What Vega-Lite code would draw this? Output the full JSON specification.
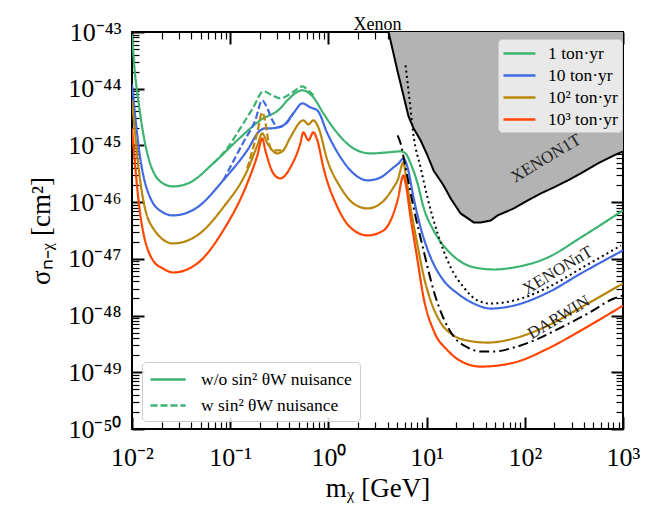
{
  "$schema": "https://vega.github.io/schema/vega-lite/v6.json",
  "width": 491,
  "height": 397,
  "autosize": {"type": "none"},
  "padding": {"left": 132, "top": 32, "right": 45, "bottom": 81},
  "background": "white",
  "title": {"text": "Xenon", "font": "Liberation Serif", "fontSize": 18, "fontWeight": "normal", "color": "black", "offset": -15},
  "config": {
    "view": {"stroke": "black", "strokeWidth": 2},
    "font": "Liberation Serif",
    "axis": {"grid": false, "domain": false, "labelFont": "Liberation Serif", "titleFont": "Liberation Serif", "labelColor": "black", "titleColor": "black", "tickColor": "black", "titleFontWeight": "normal", "labelFlush": false, "labelOverlap": false, "labelBound": false},
    "legend": {"labelFont": "Liberation Serif", "labelColor": "black", "labelFontSize": 17.5}
  },
  "datasets": {
    "curves": [
      {"m": 0.01, "s": 9.11e-44, "e": "1 ton·yr", "d": "w/o sin² θW nuisance"},
      {"m": 0.0102, "s": 5.37e-44, "e": "1 ton·yr", "d": "w/o sin² θW nuisance"},
      {"m": 0.0121, "s": 3.67e-45, "e": "1 ton·yr", "d": "w/o sin² θW nuisance"},
      {"m": 0.0153, "s": 4.82e-46, "e": "1 ton·yr", "d": "w/o sin² θW nuisance"},
      {"m": 0.0207, "s": 2.14e-46, "e": "1 ton·yr", "d": "w/o sin² θW nuisance"},
      {"m": 0.0262, "s": 1.89e-46, "e": "1 ton·yr", "d": "w/o sin² θW nuisance"},
      {"m": 0.0391, "s": 2.23e-46, "e": "1 ton·yr", "d": "w/o sin² θW nuisance"},
      {"m": 0.0671, "s": 4.82e-46, "e": "1 ton·yr", "d": "w/o sin² θW nuisance"},
      {"m": 0.118, "s": 1.23e-45, "e": "1 ton·yr", "d": "w/o sin² θW nuisance"},
      {"m": 0.202, "s": 2.77e-45, "e": "1 ton·yr", "d": "w/o sin² θW nuisance"},
      {"m": 0.324, "s": 4.51e-45, "e": "1 ton·yr", "d": "w/o sin² θW nuisance"},
      {"m": 0.382, "s": 6.24e-45, "e": "1 ton·yr", "d": "w/o sin² θW nuisance"},
      {"m": 0.543, "s": 9.35e-45, "e": "1 ton·yr", "d": "w/o sin² θW nuisance"},
      {"m": 0.703, "s": 7.05e-45, "e": "1 ton·yr", "d": "w/o sin² θW nuisance"},
      {"m": 0.889, "s": 3.67e-45, "e": "1 ton·yr", "d": "w/o sin² θW nuisance"},
      {"m": 1.24, "s": 1.63e-45, "e": "1 ton·yr", "d": "w/o sin² θW nuisance"},
      {"m": 1.8, "s": 8.87e-46, "e": "1 ton·yr", "d": "w/o sin² θW nuisance"},
      {"m": 2.68, "s": 7.23e-46, "e": "1 ton·yr", "d": "w/o sin² θW nuisance"},
      {"m": 4.0, "s": 7.54e-46, "e": "1 ton·yr", "d": "w/o sin² θW nuisance"},
      {"m": 5.43, "s": 7.85e-46, "e": "1 ton·yr", "d": "w/o sin² θW nuisance"},
      {"m": 6.11, "s": 7.23e-46, "e": "1 ton·yr", "d": "w/o sin² θW nuisance"},
      {"m": 6.87, "s": 4.82e-46, "e": "1 ton·yr", "d": "w/o sin² θW nuisance"},
      {"m": 8.09, "s": 2.14e-46, "e": "1 ton·yr", "d": "w/o sin² θW nuisance"},
      {"m": 9.31, "s": 8.07e-47, "e": "1 ton·yr", "d": "w/o sin² θW nuisance"},
      {"m": 11.78, "s": 3.17e-47, "e": "1 ton·yr", "d": "w/o sin² θW nuisance"},
      {"m": 16.37, "s": 1.41e-47, "e": "1 ton·yr", "d": "w/o sin² θW nuisance"},
      {"m": 23.9, "s": 8.28e-48, "e": "1 ton·yr", "d": "w/o sin² θW nuisance"},
      {"m": 35.6, "s": 6.76e-48, "e": "1 ton·yr", "d": "w/o sin² θW nuisance"},
      {"m": 48.3, "s": 6.49e-48, "e": "1 ton·yr", "d": "w/o sin² θW nuisance"},
      {"m": 77.3, "s": 7.05e-48, "e": "1 ton·yr", "d": "w/o sin² θW nuisance"},
      {"m": 172, "s": 1.06e-47, "e": "1 ton·yr", "d": "w/o sin² θW nuisance"},
      {"m": 372, "s": 2.38e-47, "e": "1 ton·yr", "d": "w/o sin² θW nuisance"},
      {"m": 1000, "s": 7.14e-47, "e": "1 ton·yr", "d": "w/o sin² θW nuisance"},

      {"m": 0.01, "s": 1.19e-44, "e": "10 ton·yr", "d": "w/o sin² θW nuisance"},
      {"m": 0.0121, "s": 6.15e-46, "e": "10 ton·yr", "d": "w/o sin² θW nuisance"},
      {"m": 0.0153, "s": 1.21e-46, "e": "10 ton·yr", "d": "w/o sin² θW nuisance"},
      {"m": 0.0207, "s": 6.58e-47, "e": "10 ton·yr", "d": "w/o sin² θW nuisance"},
      {"m": 0.0262, "s": 5.83e-47, "e": "10 ton·yr", "d": "w/o sin² θW nuisance"},
      {"m": 0.0461, "s": 8.07e-47, "e": "10 ton·yr", "d": "w/o sin² θW nuisance"},
      {"m": 0.0849, "s": 2.42e-46, "e": "10 ton·yr", "d": "w/o sin² θW nuisance"},
      {"m": 0.149, "s": 8.17e-46, "e": "10 ton·yr", "d": "w/o sin² θW nuisance"},
      {"m": 0.202, "s": 1.84e-45, "e": "10 ton·yr", "d": "w/o sin² θW nuisance"},
      {"m": 0.228, "s": 2.0e-45, "e": "10 ton·yr", "d": "w/o sin² θW nuisance"},
      {"m": 0.256, "s": 2.0e-45, "e": "10 ton·yr", "d": "w/o sin² θW nuisance"},
      {"m": 0.347, "s": 2.26e-45, "e": "10 ton·yr", "d": "w/o sin² θW nuisance"},
      {"m": 0.439, "s": 3.67e-45, "e": "10 ton·yr", "d": "w/o sin² θW nuisance"},
      {"m": 0.543, "s": 5.52e-45, "e": "10 ton·yr", "d": "w/o sin² θW nuisance"},
      {"m": 0.655, "s": 4.69e-45, "e": "10 ton·yr", "d": "w/o sin² θW nuisance"},
      {"m": 0.772, "s": 4.15e-45, "e": "10 ton·yr", "d": "w/o sin² θW nuisance"},
      {"m": 0.977, "s": 1.63e-45, "e": "10 ton·yr", "d": "w/o sin² θW nuisance"},
      {"m": 1.33, "s": 6.15e-46, "e": "10 ton·yr", "d": "w/o sin² θW nuisance"},
      {"m": 1.8, "s": 3.21e-46, "e": "10 ton·yr", "d": "w/o sin² θW nuisance"},
      {"m": 2.5, "s": 2.42e-46, "e": "10 ton·yr", "d": "w/o sin² θW nuisance"},
      {"m": 3.4, "s": 2.73e-46, "e": "10 ton·yr", "d": "w/o sin² θW nuisance"},
      {"m": 4.6, "s": 4.09e-46, "e": "10 ton·yr", "d": "w/o sin² θW nuisance"},
      {"m": 5.18, "s": 4.82e-46, "e": "10 ton·yr", "d": "w/o sin² θW nuisance"},
      {"m": 5.82, "s": 5.9e-46, "e": "10 ton·yr", "d": "w/o sin² θW nuisance"},
      {"m": 6.4, "s": 4.09e-46, "e": "10 ton·yr", "d": "w/o sin² θW nuisance"},
      {"m": 7.36, "s": 1.21e-46, "e": "10 ton·yr", "d": "w/o sin² θW nuisance"},
      {"m": 8.68, "s": 3.58e-47, "e": "10 ton·yr", "d": "w/o sin² θW nuisance"},
      {"m": 11.0, "s": 1.06e-47, "e": "10 ton·yr", "d": "w/o sin² θW nuisance"},
      {"m": 14.9, "s": 4.15e-48, "e": "10 ton·yr", "d": "w/o sin² θW nuisance"},
      {"m": 20.7, "s": 2.45e-48, "e": "10 ton·yr", "d": "w/o sin² θW nuisance"},
      {"m": 30.2, "s": 1.63e-48, "e": "10 ton·yr", "d": "w/o sin² θW nuisance"},
      {"m": 44.9, "s": 1.33e-48, "e": "10 ton·yr", "d": "w/o sin² θW nuisance"},
      {"m": 77.3, "s": 1.5e-48, "e": "10 ton·yr", "d": "w/o sin² θW nuisance"},
      {"m": 172, "s": 2.55e-48, "e": "10 ton·yr", "d": "w/o sin² θW nuisance"},
      {"m": 372, "s": 5.52e-48, "e": "10 ton·yr", "d": "w/o sin² θW nuisance"},
      {"m": 1000, "s": 1.41e-47, "e": "10 ton·yr", "d": "w/o sin² θW nuisance"},

      {"m": 0.01, "s": 6.24e-45, "e": "10² ton·yr", "d": "w/o sin² θW nuisance"},
      {"m": 0.0121, "s": 2.42e-46, "e": "10² ton·yr", "d": "w/o sin² θW nuisance"},
      {"m": 0.0153, "s": 4.21e-47, "e": "10² ton·yr", "d": "w/o sin² θW nuisance"},
      {"m": 0.0262, "s": 1.87e-47, "e": "10² ton·yr", "d": "w/o sin² θW nuisance"},
      {"m": 0.0461, "s": 2.59e-47, "e": "10² ton·yr", "d": "w/o sin² θW nuisance"},
      {"m": 0.0849, "s": 8.07e-47, "e": "10² ton·yr", "d": "w/o sin² θW nuisance"},
      {"m": 0.149, "s": 3.62e-46, "e": "10² ton·yr", "d": "w/o sin² θW nuisance"},
      {"m": 0.189, "s": 1.0e-45, "e": "10² ton·yr", "d": "w/o sin² θW nuisance"},
      {"m": 0.212, "s": 1.63e-45, "e": "10² ton·yr", "d": "w/o sin² θW nuisance"},
      {"m": 0.239, "s": 1.09e-45, "e": "10² ton·yr", "d": "w/o sin² θW nuisance"},
      {"m": 0.302, "s": 7.23e-46, "e": "10² ton·yr", "d": "w/o sin² θW nuisance"},
      {"m": 0.347, "s": 8.17e-46, "e": "10² ton·yr", "d": "w/o sin² θW nuisance"},
      {"m": 0.41, "s": 1.39e-45, "e": "10² ton·yr", "d": "w/o sin² θW nuisance"},
      {"m": 0.556, "s": 2.77e-45, "e": "10² ton·yr", "d": "w/o sin² θW nuisance"},
      {"m": 0.625, "s": 2.35e-45, "e": "10² ton·yr", "d": "w/o sin² θW nuisance"},
      {"m": 0.703, "s": 2.77e-45, "e": "10² ton·yr", "d": "w/o sin² θW nuisance"},
      {"m": 0.79, "s": 2.08e-45, "e": "10² ton·yr", "d": "w/o sin² θW nuisance"},
      {"m": 0.977, "s": 5.45e-46, "e": "10² ton·yr", "d": "w/o sin² θW nuisance"},
      {"m": 1.33, "s": 1.82e-46, "e": "10² ton·yr", "d": "w/o sin² θW nuisance"},
      {"m": 1.8, "s": 9.48e-47, "e": "10² ton·yr", "d": "w/o sin² θW nuisance"},
      {"m": 2.5, "s": 7.74e-47, "e": "10² ton·yr", "d": "w/o sin² θW nuisance"},
      {"m": 3.4, "s": 9.48e-47, "e": "10² ton·yr", "d": "w/o sin² θW nuisance"},
      {"m": 4.6, "s": 1.82e-46, "e": "10² ton·yr", "d": "w/o sin² θW nuisance"},
      {"m": 5.06, "s": 2.42e-46, "e": "10² ton·yr", "d": "w/o sin² θW nuisance"},
      {"m": 5.82, "s": 5.02e-46, "e": "10² ton·yr", "d": "w/o sin² θW nuisance"},
      {"m": 6.11, "s": 3.21e-46, "e": "10² ton·yr", "d": "w/o sin² θW nuisance"},
      {"m": 6.87, "s": 8.07e-47, "e": "10² ton·yr", "d": "w/o sin² θW nuisance"},
      {"m": 8.09, "s": 1.72e-47, "e": "10² ton·yr", "d": "w/o sin² θW nuisance"},
      {"m": 9.31, "s": 5.09e-48, "e": "10² ton·yr", "d": "w/o sin² θW nuisance"},
      {"m": 10.99, "s": 1.84e-48, "e": "10² ton·yr", "d": "w/o sin² θW nuisance"},
      {"m": 13.89, "s": 7.54e-49, "e": "10² ton·yr", "d": "w/o sin² θW nuisance"},
      {"m": 18.87, "s": 4.45e-49, "e": "10² ton·yr", "d": "w/o sin² θW nuisance"},
      {"m": 26.2, "s": 3.62e-49, "e": "10² ton·yr", "d": "w/o sin² θW nuisance"},
      {"m": 41.9, "s": 3.34e-49, "e": "10² ton·yr", "d": "w/o sin² θW nuisance"},
      {"m": 77.3, "s": 3.94e-49, "e": "10² ton·yr", "d": "w/o sin² θW nuisance"},
      {"m": 172, "s": 6.67e-49, "e": "10² ton·yr", "d": "w/o sin² θW nuisance"},
      {"m": 372, "s": 1.39e-48, "e": "10² ton·yr", "d": "w/o sin² θW nuisance"},
      {"m": 1000, "s": 3.68e-48, "e": "10² ton·yr", "d": "w/o sin² θW nuisance"},

      {"m": 0.01, "s": 2.0e-45, "e": "10³ ton·yr", "d": "w/o sin² θW nuisance"},
      {"m": 0.0121, "s": 6.32e-47, "e": "10³ ton·yr", "d": "w/o sin² θW nuisance"},
      {"m": 0.0164, "s": 9.35e-48, "e": "10³ ton·yr", "d": "w/o sin² θW nuisance"},
      {"m": 0.0207, "s": 6.76e-48, "e": "10³ ton·yr", "d": "w/o sin² θW nuisance"},
      {"m": 0.0262, "s": 5.75e-48, "e": "10³ ton·yr", "d": "w/o sin² θW nuisance"},
      {"m": 0.0461, "s": 8.28e-48, "e": "10³ ton·yr", "d": "w/o sin² θW nuisance"},
      {"m": 0.0849, "s": 3.17e-47, "e": "10³ ton·yr", "d": "w/o sin² θW nuisance"},
      {"m": 0.149, "s": 2.14e-46, "e": "10³ ton·yr", "d": "w/o sin² θW nuisance"},
      {"m": 0.189, "s": 6.67e-46, "e": "10³ ton·yr", "d": "w/o sin² θW nuisance"},
      {"m": 0.212, "s": 1.33e-45, "e": "10³ ton·yr", "d": "w/o sin² θW nuisance"},
      {"m": 0.228, "s": 8.17e-46, "e": "10³ ton·yr", "d": "w/o sin² θW nuisance"},
      {"m": 0.275, "s": 3.21e-46, "e": "10³ ton·yr", "d": "w/o sin² θW nuisance"},
      {"m": 0.324, "s": 2.62e-46, "e": "10³ ton·yr", "d": "w/o sin² θW nuisance"},
      {"m": 0.41, "s": 4.09e-46, "e": "10³ ton·yr", "d": "w/o sin² θW nuisance"},
      {"m": 0.518, "s": 1.09e-45, "e": "10³ ton·yr", "d": "w/o sin² θW nuisance"},
      {"m": 0.556, "s": 1.7e-45, "e": "10³ ton·yr", "d": "w/o sin² θW nuisance"},
      {"m": 0.625, "s": 1.23e-45, "e": "10³ ton·yr", "d": "w/o sin² θW nuisance"},
      {"m": 0.703, "s": 1.7e-45, "e": "10³ ton·yr", "d": "w/o sin² θW nuisance"},
      {"m": 0.772, "s": 1.23e-45, "e": "10³ ton·yr", "d": "w/o sin² θW nuisance"},
      {"m": 0.889, "s": 4.09e-46, "e": "10³ ton·yr", "d": "w/o sin² θW nuisance"},
      {"m": 1.24, "s": 8.07e-47, "e": "10³ ton·yr", "d": "w/o sin² θW nuisance"},
      {"m": 1.675, "s": 3.58e-47, "e": "10³ ton·yr", "d": "w/o sin² θW nuisance"},
      {"m": 2.5, "s": 2.59e-47, "e": "10³ ton·yr", "d": "w/o sin² θW nuisance"},
      {"m": 3.64, "s": 3.17e-47, "e": "10³ ton·yr", "d": "w/o sin² θW nuisance"},
      {"m": 5.06, "s": 1.07e-46, "e": "10³ ton·yr", "d": "w/o sin² θW nuisance"},
      {"m": 5.82, "s": 2.96e-46, "e": "10³ ton·yr", "d": "w/o sin² θW nuisance"},
      {"m": 6.11, "s": 2.14e-46, "e": "10³ ton·yr", "d": "w/o sin² θW nuisance"},
      {"m": 6.87, "s": 5.37e-47, "e": "10³ ton·yr", "d": "w/o sin² θW nuisance"},
      {"m": 8.09, "s": 9.35e-48, "e": "10³ ton·yr", "d": "w/o sin² θW nuisance"},
      {"m": 9.31, "s": 2.08e-48, "e": "10³ ton·yr", "d": "w/o sin² θW nuisance"},
      {"m": 11.78, "s": 5.45e-49, "e": "10³ ton·yr", "d": "w/o sin² θW nuisance"},
      {"m": 16.4, "s": 2.42e-49, "e": "10³ ton·yr", "d": "w/o sin² θW nuisance"},
      {"m": 23.9, "s": 1.48e-49, "e": "10³ ton·yr", "d": "w/o sin² θW nuisance"},
      {"m": 35.6, "s": 1.26e-49, "e": "10³ ton·yr", "d": "w/o sin² θW nuisance"},
      {"m": 77.3, "s": 1.48e-49, "e": "10³ ton·yr", "d": "w/o sin² θW nuisance"},
      {"m": 172, "s": 2.62e-49, "e": "10³ ton·yr", "d": "w/o sin² θW nuisance"},
      {"m": 372, "s": 5.45e-49, "e": "10³ ton·yr", "d": "w/o sin² θW nuisance"},
      {"m": 1000, "s": 1.5e-48, "e": "10³ ton·yr", "d": "w/o sin² θW nuisance"},

      {"m": 0.0671, "s": 4.82e-46, "e": "1 ton·yr", "d": "w sin² θW nuisance"},
      {"m": 0.0931, "s": 8.87e-46, "e": "1 ton·yr", "d": "w sin² θW nuisance"},
      {"m": 0.1265, "s": 2.0e-45, "e": "1 ton·yr", "d": "w sin² θW nuisance"},
      {"m": 0.172, "s": 4.69e-45, "e": "1 ton·yr", "d": "w sin² θW nuisance"},
      {"m": 0.217, "s": 9.0e-45, "e": "1 ton·yr", "d": "w sin² θW nuisance"},
      {"m": 0.2686, "s": 7.64e-45, "e": "1 ton·yr", "d": "w sin² θW nuisance"},
      {"m": 0.324, "s": 6.76e-45, "e": "1 ton·yr", "d": "w sin² θW nuisance"},
      {"m": 0.4295, "s": 8.63e-45, "e": "1 ton·yr", "d": "w sin² θW nuisance"},
      {"m": 0.543, "s": 1.1e-44, "e": "1 ton·yr", "d": "w sin² θW nuisance"},
      {"m": 0.625, "s": 9.35e-45, "e": "1 ton·yr", "d": "w sin² θW nuisance"},
      {"m": 0.736, "s": 7.05e-45, "e": "1 ton·yr", "d": "w sin² θW nuisance"},

      {"m": 0.0849, "s": 2.42e-46, "e": "10 ton·yr", "d": "w sin² θW nuisance"},
      {"m": 0.136, "s": 1.13e-45, "e": "10 ton·yr", "d": "w sin² θW nuisance"},
      {"m": 0.18, "s": 2.77e-45, "e": "10 ton·yr", "d": "w sin² θW nuisance"},
      {"m": 0.212, "s": 6.24e-45, "e": "10 ton·yr", "d": "w sin² θW nuisance"},
      {"m": 0.239, "s": 4.51e-45, "e": "10 ton·yr", "d": "w sin² θW nuisance"},
      {"m": 0.2686, "s": 2.77e-45, "e": "10 ton·yr", "d": "w sin² θW nuisance"},
      {"m": 0.309, "s": 2.08e-45, "e": "10 ton·yr", "d": "w sin² θW nuisance"},
      {"m": 0.364, "s": 2.35e-45, "e": "10 ton·yr", "d": "w sin² θW nuisance"},
      {"m": 0.439, "s": 3.67e-45, "e": "10 ton·yr", "d": "w sin² θW nuisance"},

      {"m": 0.149, "s": 3.94e-46, "e": "10² ton·yr", "d": "w sin² θW nuisance"},
      {"m": 0.189, "s": 1.7e-45, "e": "10² ton·yr", "d": "w sin² θW nuisance"},
      {"m": 0.212, "s": 3.83e-45, "e": "10² ton·yr", "d": "w sin² θW nuisance"},
      {"m": 0.228, "s": 2.55e-45, "e": "10² ton·yr", "d": "w sin² θW nuisance"},
      {"m": 0.2443, "s": 1.23e-45, "e": "10² ton·yr", "d": "w sin² θW nuisance"},
      {"m": 0.2686, "s": 8.17e-46, "e": "10² ton·yr", "d": "w sin² θW nuisance"},
      {"m": 0.347, "s": 8.17e-46, "e": "10² ton·yr", "d": "w sin² θW nuisance"}
    ],
    "xenon1t": [
      {"m": 4.1, "s": 1e-43}, {"m": 5.06, "s": 2.03e-44}, {"m": 6.55, "s": 3.25e-45},
      {"m": 7.36, "s": 2.0e-45}, {"m": 8.68, "s": 1.23e-45}, {"m": 10.2, "s": 6.67e-46},
      {"m": 11.78, "s": 3.62e-46}, {"m": 14.9, "s": 1.97e-46}, {"m": 17.6, "s": 1.16e-46},
      {"m": 22.2, "s": 6.32e-47}, {"m": 30.2, "s": 4.39e-47}, {"m": 35.6, "s": 4.39e-47},
      {"m": 44.9, "s": 4.75e-47}, {"m": 53.0, "s": 5.83e-47}, {"m": 77.3, "s": 7.74e-47},
      {"m": 107.4, "s": 1.07e-46}, {"m": 146, "s": 1.43e-46}, {"m": 197.8, "s": 1.82e-46},
      {"m": 275, "s": 2.42e-46}, {"m": 372, "s": 3.21e-46}, {"m": 556, "s": 4.82e-46},
      {"m": 810, "s": 6.67e-46}, {"m": 1000, "s": 7.85e-46}
    ],
    "xenonnt": [
      {"m": 6.11, "s": 2.58e-44}, {"m": 6.71, "s": 6.24e-45}, {"m": 7.36, "s": 1.5e-45},
      {"m": 8.68, "s": 4.09e-46}, {"m": 10.2, "s": 1.21e-46}, {"m": 12.94, "s": 2.81e-47},
      {"m": 17.6, "s": 7.05e-48}, {"m": 23.9, "s": 3.13e-48}, {"m": 33.1, "s": 1.84e-48},
      {"m": 44.9, "s": 1.63e-48}, {"m": 77.3, "s": 1.84e-48}, {"m": 172, "s": 3.13e-48},
      {"m": 372, "s": 6.76e-48}, {"m": 955, "s": 1.72e-47}
    ],
    "darwin": [
      {"m": 5.06, "s": 1.5e-45}, {"m": 5.43, "s": 1.09e-45}, {"m": 6.11, "s": 4.09e-46},
      {"m": 7.36, "s": 8.07e-47}, {"m": 9.31, "s": 1.41e-47}, {"m": 11.78, "s": 2.77e-48},
      {"m": 14.9, "s": 8.87e-49}, {"m": 18.87, "s": 4.27e-49}, {"m": 26.2, "s": 2.73e-49},
      {"m": 35.6, "s": 2.32e-49}, {"m": 48.3, "s": 2.32e-49}, {"m": 77.3, "s": 2.73e-49},
      {"m": 123.6, "s": 3.62e-49}, {"m": 233, "s": 6.15e-49}, {"m": 439, "s": 1.09e-48},
      {"m": 810, "s": 2.0e-48}, {"m": 1000, "s": 2.26e-48}
    ],
    "labels": [
      {"m": 164, "s": 5.9e-46, "t": "XENON1T"},
      {"m": 217, "s": 6.24e-48, "t": "XENONnT"},
      {"m": 222, "s": 9.23e-49, "t": "DARWIN"}
    ]
  },
  "layer": [
    {
      "data": {"name": "xenon1t"},
      "mark": {"type": "area", "color": "#b3b3b3", "opacity": 1, "clip": true},
      "encoding": {
        "x": {"field": "m", "type": "quantitative", "scale": {"type": "log", "domain": [0.01, 1000], "nice": false},
          "axis": {"orient": "top", "labels": false, "title": null,
            "values": [0.01,0.02,0.03,0.04,0.05,0.06,0.07,0.08,0.09,0.1,0.2,0.3,0.4,0.5,0.6,0.7,0.8,0.9,1,2,3,4,5,6,7,8,9,10,20,30,40,50,60,70,80,90,100,200,300,400,500,600,700,800,900,1000],
            "tickSize": {"condition": {"test": "abs(log(datum.value)/LN10 - round(log(datum.value)/LN10)) < 0.01", "value": -12}, "value": -7},
            "tickWidth": {"condition": {"test": "abs(log(datum.value)/LN10 - round(log(datum.value)/LN10)) < 0.01", "value": 2}, "value": 1.2}}},
        "y": {"field": "s", "type": "quantitative", "scale": {"type": "log", "domain": [1e-50, 1e-43], "nice": false},
          "axis": {"orient": "right", "labels": false, "title": null,
            "values": [1e-50,2e-50,3e-50,4e-50,5e-50,6e-50,7e-50,8e-50,9e-50,1e-49,2e-49,3e-49,4e-49,5e-49,6e-49,7e-49,8e-49,9e-49,1e-48,2e-48,3e-48,4e-48,5e-48,6e-48,7e-48,8e-48,9e-48,1e-47,2e-47,3e-47,4e-47,5e-47,6e-47,7e-47,8e-47,9e-47,1e-46,2e-46,3e-46,4e-46,5e-46,6e-46,7e-46,8e-46,9e-46,1e-45,2e-45,3e-45,4e-45,5e-45,6e-45,7e-45,8e-45,9e-45,1e-44,2e-44,3e-44,4e-44,5e-44,6e-44,7e-44,8e-44,9e-44,1e-43],
            "tickSize": {"condition": {"test": "abs(log(datum.value)/LN10 - round(log(datum.value)/LN10)) < 0.01", "value": -12}, "value": -7},
            "tickWidth": {"condition": {"test": "abs(log(datum.value)/LN10 - round(log(datum.value)/LN10)) < 0.01", "value": 2}, "value": 1.2}}},
        "y2": {"datum": 1e-43}
      }
    },
    {
      "data": {"name": "xenon1t"},
      "mark": {"type": "line", "color": "black", "strokeWidth": 2, "clip": true},
      "encoding": {
        "x": {"field": "m", "type": "quantitative", "axis": null},
        "y": {"field": "s", "type": "quantitative", "axis": null}
      }
    },
    {
      "data": {"name": "curves"},
      "mark": {"type": "line", "strokeWidth": 2.2, "interpolate": "monotone", "clip": true},
      "encoding": {
        "x": {"field": "m", "type": "quantitative",
          "axis": {"orient": "bottom", "title": "mᵪ [GeV]", "titleFontSize": 27, "titlePadding": 0, "labelFontSize": 26, "labelPadding": 27,
            "values": [0.01,0.02,0.03,0.04,0.05,0.06,0.07,0.08,0.09,0.1,0.2,0.3,0.4,0.5,0.6,0.7,0.8,0.9,1,2,3,4,5,6,7,8,9,10,20,30,40,50,60,70,80,90,100,200,300,400,500,600,700,800,900,1000],
            "labelExpr": "abs(log(datum.value)/LN10 - round(log(datum.value)/LN10)) < 0.01 ? ['10⁻²','10⁻¹','10⁰','10¹','10²','10³'][round(log(datum.value)/LN10)+2] : ''",
            "tickSize": {"condition": {"test": "abs(log(datum.value)/LN10 - round(log(datum.value)/LN10)) < 0.01", "value": -12}, "value": -7},
            "tickWidth": {"condition": {"test": "abs(log(datum.value)/LN10 - round(log(datum.value)/LN10)) < 0.01", "value": 2}, "value": 1.2}}},
        "y": {"field": "s", "type": "quantitative",
          "axis": {"orient": "left", "title": "σₙ₋ᵪ [cm²]", "titleFontSize": 27, "titlePadding": 12, "labelFontSize": 26, "labelPadding": 23,
            "values": [1e-50,2e-50,3e-50,4e-50,5e-50,6e-50,7e-50,8e-50,9e-50,1e-49,2e-49,3e-49,4e-49,5e-49,6e-49,7e-49,8e-49,9e-49,1e-48,2e-48,3e-48,4e-48,5e-48,6e-48,7e-48,8e-48,9e-48,1e-47,2e-47,3e-47,4e-47,5e-47,6e-47,7e-47,8e-47,9e-47,1e-46,2e-46,3e-46,4e-46,5e-46,6e-46,7e-46,8e-46,9e-46,1e-45,2e-45,3e-45,4e-45,5e-45,6e-45,7e-45,8e-45,9e-45,1e-44,2e-44,3e-44,4e-44,5e-44,6e-44,7e-44,8e-44,9e-44,1e-43],
            "labelExpr": "abs(log(datum.value)/LN10 - round(log(datum.value)/LN10)) < 0.01 ? ['10⁻⁵⁰','10⁻⁴⁹','10⁻⁴⁸','10⁻⁴⁷','10⁻⁴⁶','10⁻⁴⁵','10⁻⁴⁴','10⁻⁴³'][round(log(datum.value)/LN10)+50] : ''",
            "tickSize": {"condition": {"test": "abs(log(datum.value)/LN10 - round(log(datum.value)/LN10)) < 0.01", "value": -12}, "value": -7},
            "tickWidth": {"condition": {"test": "abs(log(datum.value)/LN10 - round(log(datum.value)/LN10)) < 0.01", "value": 2}, "value": 1.2}}},
        "color": {"field": "e", "type": "nominal",
          "scale": {"domain": ["1 ton·yr", "10 ton·yr", "10² ton·yr", "10³ ton·yr"], "range": ["#3cb371", "#4169e1", "#b8860b", "#ff4500"]},
          "legend": {"title": null, "orient": "none", "legendX": 366, "legendY": 7, "fillColor": "rgba(242,242,242,0.85)", "strokeColor": "#cccccc", "cornerRadius": 4, "padding": 4, "symbolType": "M-1,0H2.55", "symbolSize": 324, "symbolStrokeWidth": 2.5, "rowPadding": 3, "labelOffset": 25}},
        "strokeDash": {"field": "d", "type": "nominal",
          "scale": {"domain": ["w/o sin² θW nuisance", "w sin² θW nuisance"], "range": [[1, 0], [7, 3]]},
          "legend": {"title": null, "orient": "none", "legendX": 10, "legendY": 330, "fillColor": "rgba(255,255,255,0.85)", "strokeColor": "#cccccc", "cornerRadius": 4, "padding": 7, "symbolType": "M-1,0H2.9", "symbolSize": 324, "symbolStrokeWidth": 2.5, "symbolStrokeColor": "#3cb371", "rowPadding": 7, "labelOffset": 31}}
      }
    },
    {
      "data": {"name": "xenonnt"},
      "mark": {"type": "line", "color": "black", "strokeWidth": 2, "strokeDash": [2, 3.3], "interpolate": "monotone", "clip": true},
      "encoding": {
        "x": {"field": "m", "type": "quantitative", "axis": null},
        "y": {"field": "s", "type": "quantitative", "axis": null}
      }
    },
    {
      "data": {"name": "darwin"},
      "mark": {"type": "line", "color": "black", "strokeWidth": 2, "strokeDash": [10, 4, 2, 4], "interpolate": "monotone", "clip": true},
      "encoding": {
        "x": {"field": "m", "type": "quantitative", "axis": null},
        "y": {"field": "s", "type": "quantitative", "axis": null}
      }
    },
    {
      "data": {"name": "labels"},
      "mark": {"type": "text", "font": "Liberation Serif", "fontSize": 17, "angle": -31, "align": "center", "baseline": "middle", "color": "#222222"},
      "encoding": {
        "x": {"field": "m", "type": "quantitative", "axis": null},
        "y": {"field": "s", "type": "quantitative", "axis": null},
        "text": {"field": "t"}
      }
    }
  ],
  "resolve": {"axis": {"x": "independent", "y": "independent"}}
}
